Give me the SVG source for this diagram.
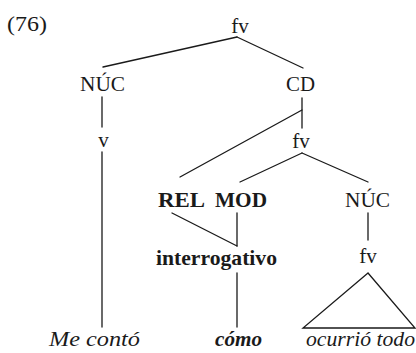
<svg xmlns="http://www.w3.org/2000/svg" width="416" height="353" viewBox="0 0 416 353">
  <style>
    text { font-family: "Liberation Serif", "Times New Roman", serif; fill: #1a1a1a; }
    .lab { font-size: 21px; text-anchor: middle; }
    .rg { font-size: 21px; }
    .b { font-size: 21px; font-weight: bold; }
    .it { font-size: 21px; font-style: italic; }
    .bi { font-size: 21px; font-style: italic; font-weight: bold; }
    .edge { stroke: #1a1a1a; stroke-width: 1.3; fill: none; stroke-linecap: round; }
  </style>
  <rect width="416" height="353" fill="#ffffff"/>

  <text class="rg" x="7" y="31" textLength="40" lengthAdjust="spacingAndGlyphs">(76)</text>

  <!-- tree edges -->
  <g id="connectors">
    <line class="edge" x1="237" y1="37" x2="103" y2="67"/>
    <line class="edge" x1="237" y1="37" x2="303" y2="68"/>
    <line class="edge" x1="102" y1="97" x2="102" y2="127"/>
    <line class="edge" x1="102" y1="152" x2="102" y2="327"/>
    <line class="edge" x1="302" y1="98" x2="302" y2="128"/>
    <line class="edge" x1="302" y1="110" x2="180" y2="177"/>
    <line class="edge" x1="302" y1="153" x2="240" y2="182"/>
    <line class="edge" x1="302" y1="153" x2="368" y2="182"/>
    <line class="edge" x1="172" y1="213" x2="237" y2="246"/>
    <line class="edge" x1="237" y1="213" x2="237" y2="246"/>
    <line class="edge" x1="368" y1="213" x2="368" y2="240"/>
    <line class="edge" x1="237" y1="273" x2="237" y2="327"/>
    <polygon class="edge" points="368,273 303,328 415,328"/>
  </g>

  <g id="fv-root"><text class="lab" x="240" y="33">fv</text></g>
  <g id="nuc-1"><text class="rg" x="80" y="91" textLength="45" lengthAdjust="spacingAndGlyphs">NÚC</text></g>
  <g id="cd"><text class="rg" x="286" y="91" textLength="29" lengthAdjust="spacingAndGlyphs">CD</text></g>
  <g id="v"><text class="lab" x="103.5" y="147">v</text></g>
  <g id="fv-cd"><text class="lab" x="301" y="148">fv</text></g>
  <g id="rel-mod">
    <text class="b" x="158" y="207" textLength="47" lengthAdjust="spacingAndGlyphs">REL</text>
    <text class="b" x="215" y="207" textLength="52" lengthAdjust="spacingAndGlyphs">MOD</text>
  </g>
  <g id="nuc-2"><text class="rg" x="345" y="207" textLength="45" lengthAdjust="spacingAndGlyphs">NÚC</text></g>
  <g id="interrogativo"><text class="b" x="156" y="265" textLength="121" lengthAdjust="spacingAndGlyphs">interrogativo</text></g>
  <g id="fv-nuc"><text class="lab" x="368" y="263">fv</text></g>
  <g id="me-conto"><text class="it" x="49" y="346" textLength="91" lengthAdjust="spacingAndGlyphs">Me contó</text></g>
  <g id="como"><text class="bi" x="215" y="346" textLength="47" lengthAdjust="spacingAndGlyphs">cómo</text></g>
  <g id="ocurrio-todo"><text class="it" x="306" y="346" textLength="109" lengthAdjust="spacingAndGlyphs">ocurrió todo</text></g>
</svg>
